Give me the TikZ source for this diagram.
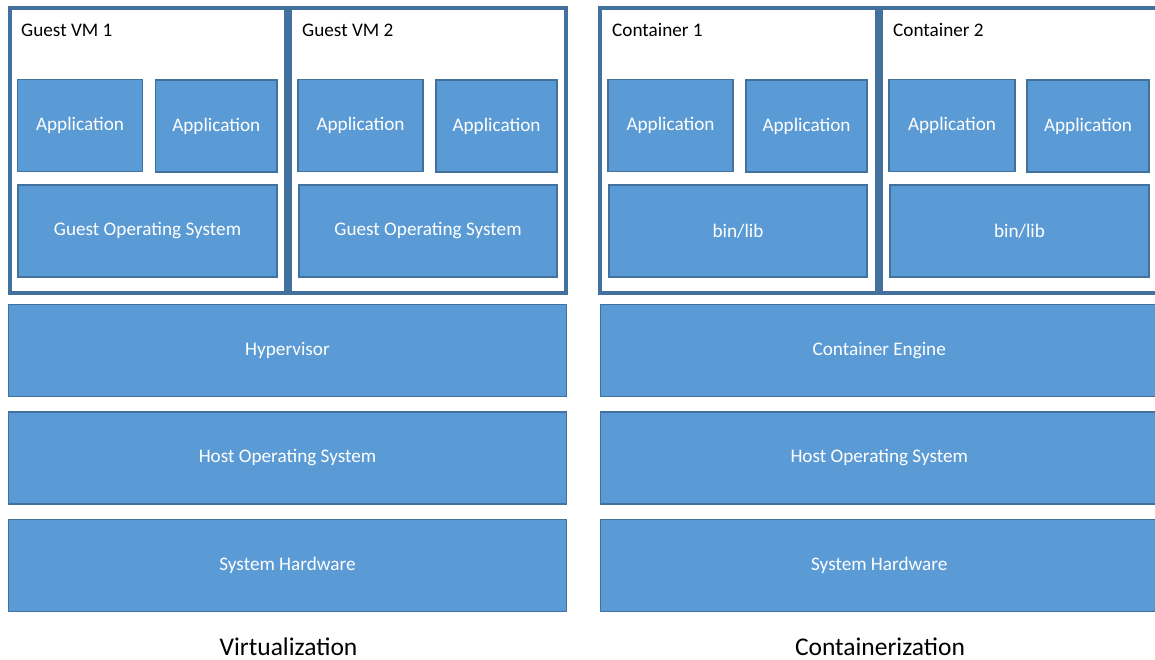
\documentclass[tikz,border=0pt]{standalone}
\usepackage{fontspec}
\setmainfont{Carlito}
\definecolor{boxfill}{HTML}{5B9BD5}
\definecolor{boxline}{HTML}{41719C}
\tikzset{
  layer/.style={draw=boxline, fill=boxfill, line width=1.5pt, text=white,
    inner sep=0pt, outer sep=0pt, font=\fontsize{19.2}{23}\selectfont},
  frame/.style={draw=boxline, fill=white, line width=4pt},
  framelabel/.style={anchor=base west, inner sep=0pt, font=\fontsize{19.2}{23}\selectfont},
  caption/.style={anchor=base, inner sep=0pt, font=\fontsize{25.5}{30}\selectfont}
}
% block from (x1,y1) to (x2,y2) in pixel units, y pointing down
\newcommand{\blk}[6]{%
  \node[layer, minimum width={(#4)-(#2)}, minimum height={(#5)-(#3)}]
    (#1) at ({((#2)+(#4))/2},{((#3)+(#5))/2}) {\raisebox{-1.5pt}{#6}};}
\begin{document}
\begin{tikzpicture}[x=1pt, y=-1pt]
\clip (0,0) rectangle (1155,660);
\fill[white] (0,0) rectangle (1155,660);

% guest machines and containers
\draw[frame] (9.5,8) rectangle (285.5,293);
\draw[frame] (289.5,8) rectangle (566,293);
\draw[frame] (600,8) rectangle (877,293);
\draw[frame] (881,8) rectangle (1158,293);

\node[framelabel] (vm1) at (21,37) {Guest VM 1};
\node[framelabel] (vm2) at (302,37) {Guest VM 2};
\node[framelabel] (c1) at (612,37) {Container 1};
\node[framelabel] (c2) at (893,37) {Container 2};

\blk{vm1a}{17.5}{79.5}{142.5}{171.5}{Application}
\blk{vm1b}{155.5}{80}{277}{172}{Application}
\blk{vm1os}{18}{185}{277}{277}{Guest Operating System}

\blk{vm2a}{298}{79.5}{423}{171.5}{Application}
\blk{vm2b}{436}{80}{557}{172}{Application}
\blk{vm2os}{299}{185}{557}{277}{Guest Operating System}

\blk{c1a}{608}{79.5}{733}{171.5}{Application}
\blk{c1b}{746}{80}{867}{172}{Application}
\blk{c1lib}{609}{185}{867}{277}{bin/lib}

\blk{c2a}{889}{79.5}{1015}{171.5}{Application}
\blk{c2b}{1027}{80}{1149}{172}{Application}
\blk{c2lib}{890}{185}{1149}{277}{bin/lib}

% shared layers
\blk{hyp}{8.5}{304.5}{566.5}{396.5}{Hypervisor}
\blk{hostl}{8.5}{412}{566.5}{504}{Host Operating System}
\blk{hwl}{8.5}{519.5}{566.5}{611.5}{System Hardware}

\blk{engine}{600.5}{304.5}{1158}{396.5}{Container Engine}
\blk{hostr}{600.5}{412}{1158}{504}{Host Operating System}
\blk{hwr}{600.5}{519.5}{1158}{611.5}{System Hardware}

\node[caption] (virt) at (288.5,655) {Virtualization};
\node[caption] (cont) at (880,655) {Containerization};
\end{tikzpicture}
\end{document}
